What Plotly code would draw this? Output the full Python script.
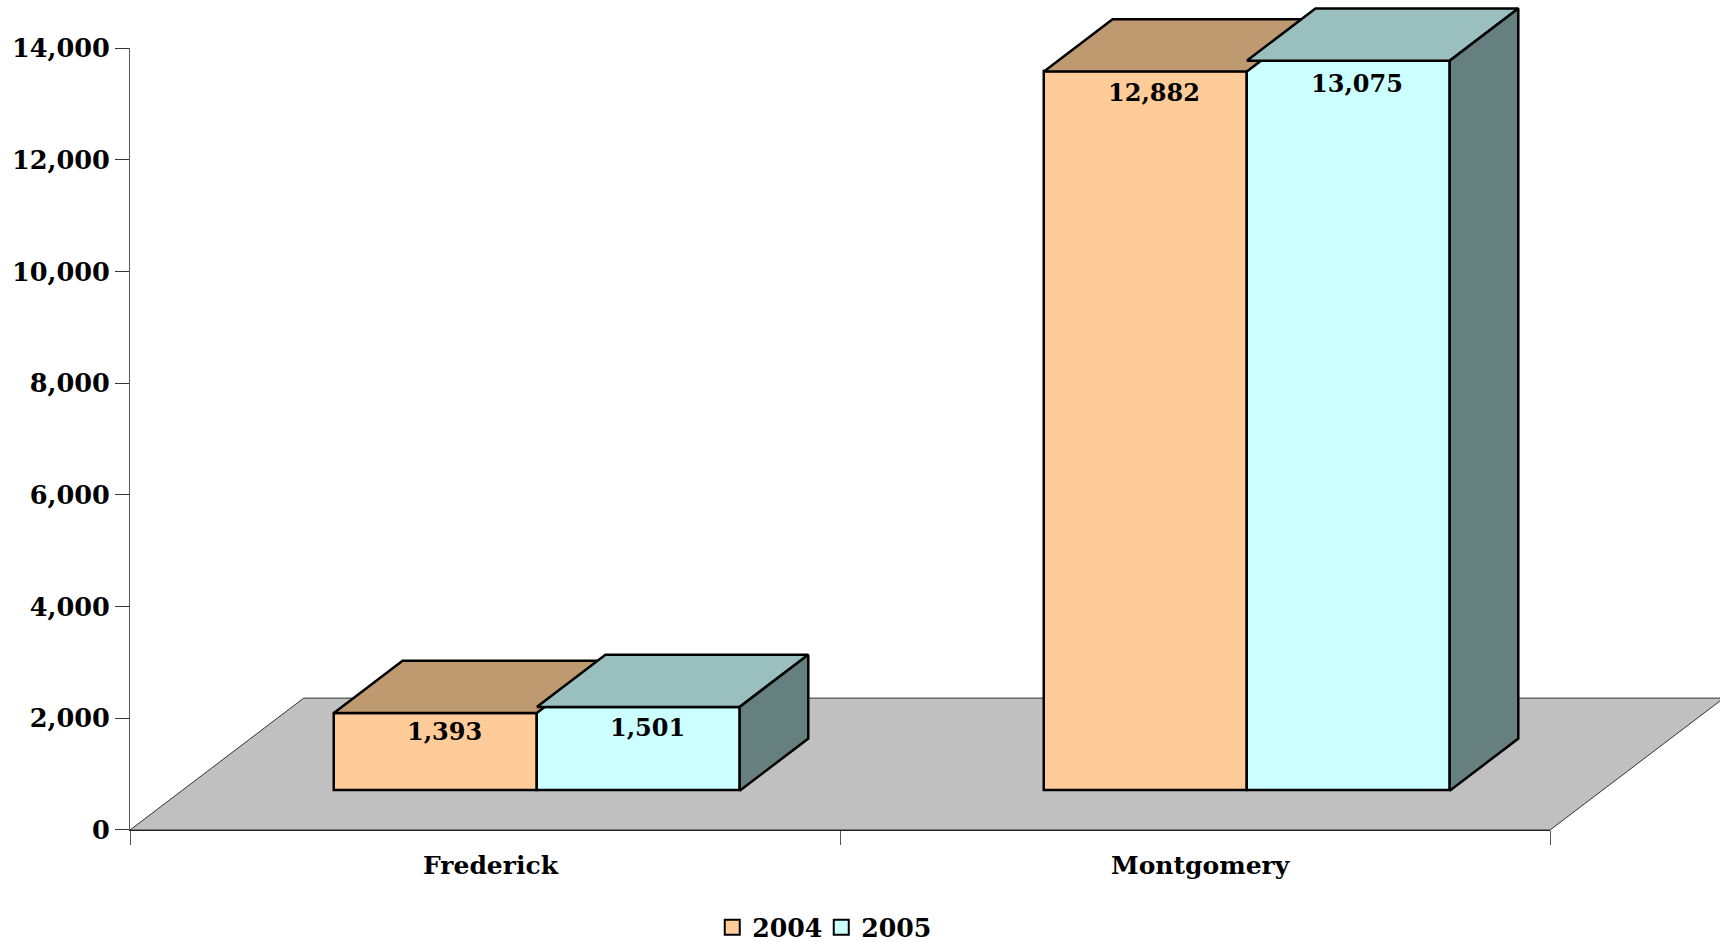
import plotly.graph_objects as go

CATEGORIES = ["Frederick", "Montgomery"]
SERIES = ["2004", "2005"]
VALUES_2004 = [1393, 12882]
VALUES_2005 = [1501, 13075]
Y_TICKS = [0, 2000, 4000, 6000, 8000, 10000, 12000, 14000]

FRONT = {"2004": "#FFCC99", "2005": "#CCFFFF"}
TOP = {"2004": "#BF9970", "2005": "#99BFBF"}
SIDE = {"2004": "#806650", "2005": "#668080"}
LABEL_DROP = {"2004": 18.1, "2005": 20.0}

FONT = "DejaVu Serif"
Y_MAX = 14000
X_MAX = len(CATEGORIES)
# Oblique projection of the floor depth, in axis units
DX = 0.2447
DY = 2362
Z_NEAR = 0.298
Z_DEPTH = 0.395
BAR_W = 2 / 7
EDGE = 2.5

# Plot geometry: main axes sit inside a larger subplot that holds the 3D faces
PLOT_W, PLOT_H = 1590.5, 829.7
AXIS_W, AXIS_H = 1420.5, 781.4
FRAC_X, FRAC_Y = AXIS_W / PLOT_W, AXIS_H / PLOT_H
X2_MAX, Y2_MAX = X_MAX / FRAC_X, Y_MAX / FRAC_Y


def proj(x, y, z):
    return x + z * DX, y + z * DY


fig = go.Figure()

series_values = {"2004": VALUES_2004, "2005": VALUES_2005}
base = proj(0, 0, Z_NEAR)

for s_i, s in enumerate(SERIES):
    centers = [i + 0.5 + (s_i - 0.5) * BAR_W + base[0] for i in range(X_MAX)]
    fig.add_trace(go.Bar(
        x=centers, y=series_values[s], base=[base[1]] * X_MAX, width=BAR_W,
        name=s, marker=dict(color=FRONT[s], line=dict(color="black", width=EDGE)),
        hoverinfo="skip", showlegend=False,
    ))
    # Legend key
    fig.add_trace(go.Scatter(
        x=[None], y=[None], mode="markers", name=s,
        marker=dict(symbol="square", size=15, color=FRONT[s], line=dict(color="black", width=2)),
        hoverinfo="skip",
    ))


def face(xs, ys, color):
    fig.add_trace(go.Scatter(
        x=xs, y=ys, xaxis="x2", yaxis="y2", mode="lines", fill="toself", fillcolor=color,
        line=dict(color="black", width=EDGE),
        showlegend=False, hoverinfo="skip",
    ))


for s_i, s in enumerate(SERIES):
    for i, v in enumerate(series_values[s]):
        left = i + 0.5 + (s_i - 1) * BAR_W
        right = left + BAR_W
        z0, z1 = Z_NEAR, Z_NEAR + Z_DEPTH
        pts = [proj(left, v, z0), proj(right, v, z0), proj(right, v, z1), proj(left, v, z1), proj(left, v, z0)]
        face([p[0] for p in pts], [p[1] for p in pts], TOP[s])
        if s == SERIES[-1]:
            pts = [proj(right, 0, z0), proj(right, 0, z1), proj(right, v, z1), proj(right, v, z0), proj(right, 0, z0)]
            face([p[0] for p in pts], [p[1] for p in pts], SIDE[s])

# Floor, in paper fractions of the larger subplot
floor = [(0, 0, 0), (X_MAX, 0, 0), (X_MAX, 0, 1), (0, 0, 1)]
path = ""
for k, (x, y, z) in enumerate(floor):
    px, py = proj(x, y, z)
    path += ("M" if k == 0 else "L") + f"{px / X2_MAX},{py / Y2_MAX} "
path += "Z"
shapes = [dict(type="path", xref="paper", yref="paper", path=path, layer="below",
               fillcolor="#C0C0C0", line=dict(color="#333333", width=1))]

annotations = []
for i, c in enumerate(CATEGORIES):
    annotations.append(dict(x=i + 0.5, y=0, xref="x", yref="y", text=f"<b>{c}</b>", showarrow=False,
                            xshift=6, yshift=-35.5, yanchor="middle",
                            font=dict(family=FONT, size=25, color="black")))
for s_i, s in enumerate(SERIES):
    for i, v in enumerate(series_values[s]):
        cx = i + 0.5 + (s_i - 0.5) * BAR_W + base[0]
        annotations.append(dict(x=cx, y=v * 0.9955 + base[1], xref="x", yref="y", text=f"<b>{v:,}</b>", showarrow=False,
                                xshift=9, yshift=-LABEL_DROP[s], yanchor="middle",
                                font=dict(family=FONT, size=24, color="black")))

fig.update_layout(
    width=1720, height=942,
    margin=dict(l=129.5, r=0, t=0, b=112.3, pad=0, autoexpand=False),
    paper_bgcolor="white", plot_bgcolor="rgba(0,0,0,0)",
    barmode="overlay", bargap=0,
    shapes=shapes, annotations=annotations,
    font=dict(family=FONT, color="black"),
    xaxis=dict(domain=[0, FRAC_X], range=[0, X_MAX], tickmode="array", tickvals=list(range(X_MAX + 1)),
               ticktext=[""] * (X_MAX + 1), ticks="outside", ticklen=14, tickwidth=1, tickcolor="#555555",
               showline=True, linecolor="#222222", linewidth=1, showgrid=False, zeroline=False),
    yaxis=dict(domain=[0, FRAC_Y], range=[0, Y_MAX], tickmode="array", tickvals=Y_TICKS,
               ticktext=[f"<b>{t:,}</b>" for t in Y_TICKS], ticks="outside", ticklen=14, tickwidth=1,
               tickcolor="#333333", showline=True, linecolor="#555555", linewidth=1, showgrid=False,
               zeroline=False, tickfont=dict(family=FONT, size=25.6, color="black")),
    xaxis2=dict(domain=[0, 1], range=[0, X2_MAX], anchor="y2", visible=False),
    yaxis2=dict(domain=[0, 1], range=[0, Y2_MAX], anchor="x2", visible=False),
    legend=dict(orientation="h", x=0.3662, y=-0.0895, xanchor="left", yanchor="top",
                font=dict(family=FONT, size=25.2, color="black", weight="bold"),
                bgcolor="rgba(0,0,0,0)", itemwidth=30, traceorder="normal", tracegroupgap=0,
                entrywidth=64, entrywidthmode="pixels"),
)

fig.write_html("out.html", config={"displayModeBar": False},
               post_script="document.body.style.margin='0';document.body.style.overflow='hidden';")
